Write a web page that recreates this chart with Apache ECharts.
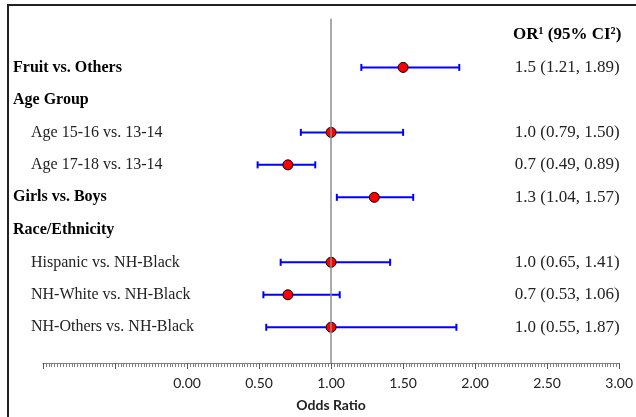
<!DOCTYPE html>
<html>
<head>
<meta charset="utf-8">
<script src="https://cdn.jsdelivr.net/npm/echarts@6/dist/echarts.min.js"></script>
<style>
  html, body { margin: 0; padding: 0; background: #fff; }
  #chart { width: 636px; height: 417px; }
</style>
</head>
<body>
<div id="chart"></div>
<script>
// ---- data ----
var rowLabels = ['', 'Fruit vs. Others', 'Age Group', 'Age 15-16 vs. 13-14', 'Age 17-18 vs. 13-14',
  'Girls vs. Boys', 'Race/Ethnicity', 'Hispanic vs. NH-Black', 'NH-White vs. NH-Black', 'NH-Others vs. NH-Black'];
var rowBold = [false, true, true, false, false, true, true, false, false, false];
var orText = ['OR\u00B9 (95% CI\u00B2)', '1.5 (1.21, 1.89)', '', '1.0 (0.79, 1.50)', '0.7 (0.49, 0.89)',
  '1.3 (1.04, 1.57)', '', '1.0 (0.65, 1.41)', '0.7 (0.53, 1.06)', '1.0 (0.55, 1.87)'];
var orValue = [null, 1.5, null, 1.0, 0.7, 1.3, null, 1.0, 0.7, 1.0];
var ciLow = [null, 1.21, null, 0.79, 0.49, 1.04, null, 0.65, 0.53, 0.55];
var ciHigh = [null, 1.89, null, 1.50, 0.89, 1.57, null, 1.41, 1.06, 1.87];
var xTicks = [0, 0.5, 1, 1.5, 2, 2.5, 3];

var pointData = [], ciData = [], rowIdx = [];
for (var i = 0; i < rowLabels.length; i++) {
  rowIdx.push(i);
  if (orValue[i] !== null) {
    pointData.push([orValue[i], i]);
    ciData.push([ciLow[i], ciHigh[i], i]);
  }
}

var chart = echarts.init(document.getElementById('chart'));
var serif = '"Liberation Serif", "Times New Roman", serif';
var sans = 'Lato, "Open Sans", sans-serif';

chart.setOption({
  backgroundColor: '#fff',
  animation: false,
  graphic: [{
    type: 'rect', shape: { x: 8, y: 5, width: 700, height: 500 },
    style: { fill: 'none', stroke: '#222', lineWidth: 2 }, silent: true
  }],
  grid: { left: 43, right: 15, top: 18.7, bottom: 54 },
  xAxis: {
    type: 'value', min: -1, max: 3, interval: 0.5,
    name: 'Odds Ratio', nameLocation: 'middle', nameGap: 35,
    nameTextStyle: { fontFamily: sans, fontWeight: 'bold', fontSize: 14, color: '#222' },
    axisLine: { show: true, onZero: false, lineStyle: { color: '#7f7f7f', width: 1 } },
    axisTick: { show: true, length: 6, lineStyle: { color: '#595959' } },
    minorTick: { show: true, splitNumber: 25, length: 4, lineStyle: { color: '#7f7f7f' } },
    splitLine: { show: false },
    axisLabel: {
      margin: 13, fontFamily: sans, fontSize: 14, color: '#222',
      formatter: function (v) { return xTicks.indexOf(v) >= 0 ? v.toFixed(2) : ''; }
    }
  },
  yAxis: [{
    type: 'value', min: -0.5, max: 10.1, inverse: true, position: 'left',
    axisLine: { show: false }, axisTick: { show: false }, splitLine: { show: false },
    axisLabel: {
      customValues: rowIdx, margin: 30, align: 'left',
      formatter: function (v) {
        var t = rowLabels[v] || '';
        if (!t) return '';
        return rowBold[v] ? '{b|' + t + '}' : '{n|' + t + '}';
      },
      rich: {
        b: { fontFamily: serif, fontWeight: 'bold', fontSize: 16, color: '#000' },
        n: { fontFamily: serif, fontSize: 16, color: '#222', padding: [0, 0, 0, 18] }
      }
    }
  }, {
    type: 'value', min: -0.5, max: 10.1, inverse: true, position: 'right',
    axisLine: { show: false }, axisTick: { show: false }, splitLine: { show: false },
    axisLabel: {
      customValues: rowIdx, margin: -52, align: 'center',
      formatter: function (v) {
        var t = orText[v] || '';
        if (!t) return '';
        return v === 0 ? '{h|' + t + '}' : '{n|' + t + '}';
      },
      rich: {
        h: { fontFamily: serif, fontWeight: 'bold', fontSize: 17, color: '#000' },
        n: { fontFamily: serif, fontSize: 17, color: '#222' }
      }
    }
  }],
  series: [{
    type: 'custom',
    name: 'CI',
    data: ciData,
    z: 3,
    renderItem: function (params, api) {
      var p1 = api.coord([api.value(0), api.value(2)]);
      var p2 = api.coord([api.value(1), api.value(2)]);
      var h = 3.5;
      var st = { stroke: '#0000ff', lineWidth: 2 };
      return {
        type: 'group',
        children: [
          { type: 'line', shape: { x1: p1[0], y1: p1[1], x2: p2[0], y2: p2[1] }, style: st },
          { type: 'line', shape: { x1: p1[0], y1: p1[1] - h, x2: p1[0], y2: p1[1] + h }, style: st },
          { type: 'line', shape: { x1: p2[0], y1: p2[1] - h, x2: p2[0], y2: p2[1] + h }, style: st }
        ]
      };
    },
    markLine: {
      silent: true, symbol: 'none', label: { show: false },
      lineStyle: { color: '#8c8c8c', width: 1.5, type: 'solid' },
      data: [{ xAxis: 1 }]
    }
  }, {
    type: 'scatter',
    name: 'OR',
    data: pointData,
    z: 4,
    symbol: 'circle',
    symbolSize: 10,
    itemStyle: { color: '#ff0000', borderColor: '#000', borderWidth: 1, opacity: 1 }
  }]
});
</script>
</body>
</html>
